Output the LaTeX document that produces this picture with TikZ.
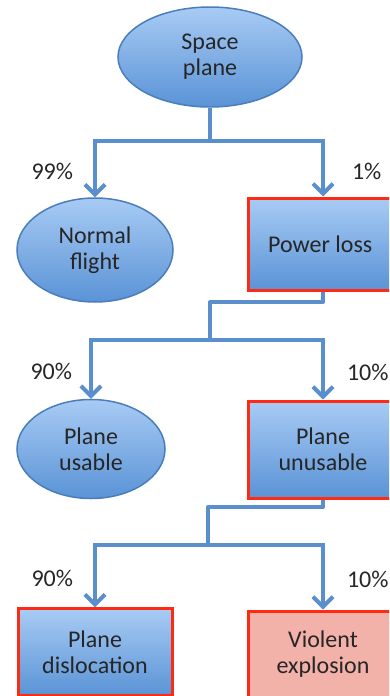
\documentclass[tikz,border=0pt]{standalone}
\usepackage{fontspec}
\setmainfont{Carlito}
\usepackage{xcolor}
\usepackage{tikz}
\usetikzlibrary{
  arrows.meta,
  positioning,
  shapes.geometric
}
\definecolor{FillTop}{HTML}{A8CBF4}
\definecolor{FillBottom}{HTML}{5A93D6}
\definecolor{EdgeBlue}{HTML}{4A7EBB}
\definecolor{LinkBlue}{HTML}{5B8ECC}
\definecolor{AlertRed}{HTML}{FF2A14}
\definecolor{AlertFill}{HTML}{F2B1A9}
\definecolor{TextGray}{HTML}{262626}
\tikzset{
  outcome/.style={
    ellipse,
    draw=EdgeBlue,
    line width=1.5pt,
    top color=FillTop,
    bottom color=FillBottom,
    inner sep=0pt,
    align=center,
    text=TextGray
  },
  alertbox/.style={
    rectangle,
    draw=AlertRed,
    line width=3pt,
    inner sep=0pt,
    minimum width=150pt,
    align=center,
    text=TextGray
  },
  hazard/.style={
    alertbox,
    top color=FillTop,
    bottom color=FillBottom
  },
  failure/.style={
    alertbox,
    fill=AlertFill
  },
  link/.style={
    draw=LinkBlue,
    line width=4pt
  },
  branch/.style={
    link,
    -{Straight Barb[length=10pt,width=20pt]}
  },
  pct/.style={
    text=TextGray,
    inner sep=0pt
  }
}

\begin{document}
\begin{tikzpicture}[x=1pt,y=1pt,font=\fontsize{24}{26}\selectfont]

  \useasboundingbox (0,0) rectangle (389,-696);
  \clip (0,0) rectangle (389,-696);

  % top level
  \node[
    outcome,
    minimum width=184pt,
    minimum height=100pt
  ] (space) at (210,-57) {
    Space\\
    plane
  };

  \node[
    outcome,
    minimum width=156pt,
    minimum height=104pt
  ] (normal) at (95,-250) {
    Normal\\
    flight
  };

  \node[
    hazard,
    minimum height=92pt
  ] (power) at (323,-244) {
    Power loss
  };

  % second level
  \node[
    outcome,
    minimum width=148pt,
    minimum height=99pt,
    below=96pt of normal.south,
    anchor=north,
    xshift=-4pt
  ] (usable) {
    Plane\\
    usable
  };

  \node[
    hazard,
    minimum height=97pt,
    below=108pt of power.south,
    anchor=north
  ] (unusable) {
    Plane\\
    unusable
  };

  % third level
  \node[
    hazard,
    minimum width=154pt,
    minimum height=87pt,
    below=108pt of usable.south,
    anchor=north,
    xshift=4pt
  ] (dislocation) {
    Plane\\
    dislocation
  };

  \node[
    failure,
    minimum height=87pt,
    below=110pt of unusable.south,
    anchor=north
  ] (explosion) {
    Violent\\
    explosion
  };

  \coordinate (split1) at (210,-141);
  \coordinate (bend2) at (210,-302);
  \coordinate (split2) at (210,-340);
  \coordinate (bend3) at (208,-507);
  \coordinate (split3) at (208,-545);

  \draw[link] (space.south) -- (split1);
  \draw[branch] (split1) -| node[pct, pos=0.77, left=20pt] (p99) {99\%} (normal.north);
  \draw[branch] (split1) -| node[pct, pos=0.77, right=27pt] (p1) {1\%} (power.north);

  \draw[link, line join=round] (power.south) |- (bend2) -- (split2);
  \draw[branch] (split2) -| node[pct, pos=0.77, left=17pt] (p90a) {90\%} (usable.north);
  \draw[branch] (split2) -| node[pct, pos=0.77, right=22pt] (p10a) {10\%} (unusable.north);

  \draw[link, line join=round] (unusable.south) |- (bend3) -- (split3);
  \draw[branch] (split3) -| node[pct, pos=0.77, left=20pt] (p90b) {90\%} (dislocation.north);
  \draw[branch] (split3) -| node[pct, pos=0.77, right=22pt] (p10b) {10\%} (explosion.north);

\end{tikzpicture}
\end{document}
